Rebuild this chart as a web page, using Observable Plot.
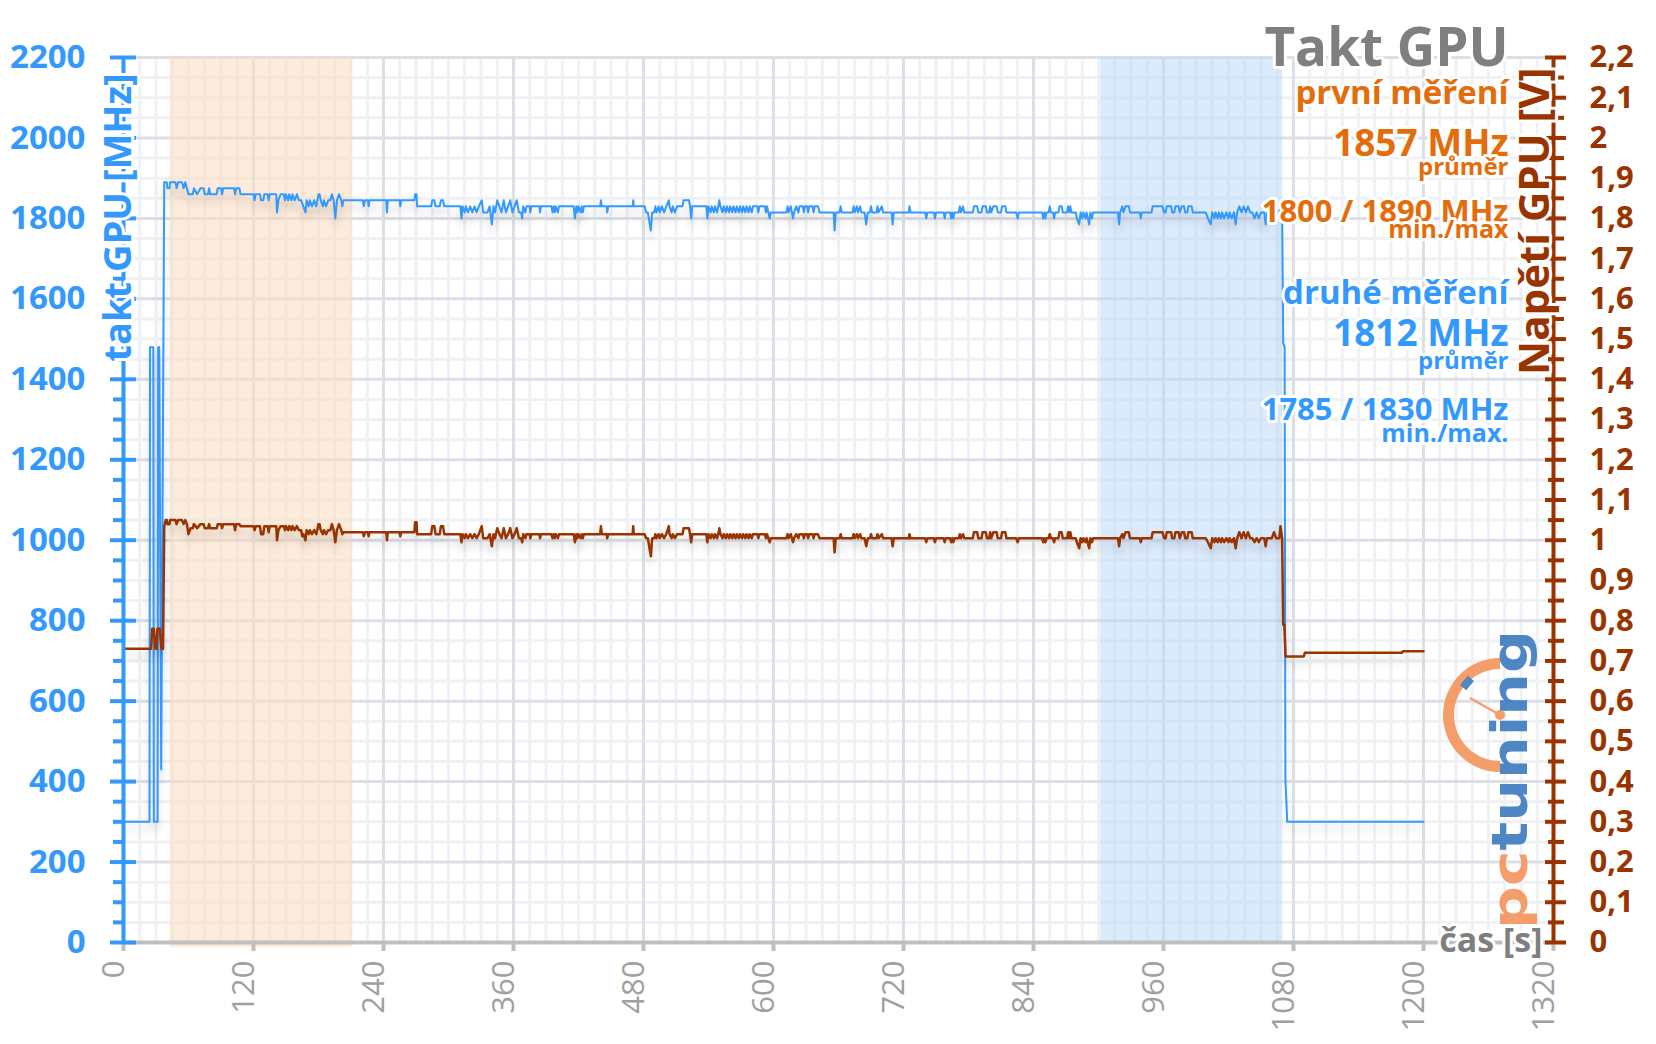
<!DOCTYPE html>
<html><head><meta charset="utf-8">
<script src="https://cdn.jsdelivr.net/npm/d3@7"></script>
<script src="https://cdn.jsdelivr.net/npm/@observablehq/plot@0.6"></script>
<style>
html,body{margin:0;padding:0;background:#fff;}
#chart svg text{paint-order:stroke;}
#chart g[aria-label="line"] path{filter:drop-shadow(0px 7px 4px rgba(0,0,0,0.17));}
</style></head>
<body><div id="chart"></div>
<script>
// ---- data ----
const timeTicks = [0,120,240,360,480,600,720,840,960,1080,1200,1320];
const clockTicks = [0,200,400,600,800,1000,1200,1400,1600,1800,2000,2200];
const voltTicks = [0,0.1,0.2,0.3,0.4,0.5,0.6,0.7,0.8,0.9,1,1.1,1.2,1.3,1.4,1.5,1.6,1.7,1.8,1.9,2,2.1,2.2];
const bandFirst = [{start:43,end:211}];
const bandSecond = [{start:902,end:1070}];
const clockPts = [
[0,300],[24,300],[24.5,1480],[27.5,1480],[28,300],[31.5,300],[32,1480],[33,1480],[34.8,430],[37.6,1890],
[40,1890],[40.5,1875],[42.5,1875],[43,1890],[48,1890],[49,1875],[50.5,1890],[54,1890],[55.5,1875],[57,1890],[58.5,1875],[60,1860],
[64,1860],[65,1875],[68,1860],[71,1875],[74,1875],[75,1860],[78,1860],[79,1875],[80,1860],[86,1860],[87,1875],[90,1875],[91,1860],[92,1875],[102,1875],[103,1860],[104,1875],[107,1875],[108,1860],
[120,1860],[121,1845],[122,1860],[126,1860],[127,1845],[129,1845],[130,1860],[133,1860],[134,1845],[135,1860],[141,1860],[141.7,1815],[143,1845],[145,1860],[148,1860],[149,1845],[150,1860],[152,1845],[153,1860],[155,1845],[156,1860],[158,1845],[160,1860],[162,1845],
[164,1845],[166,1830],[168,1815],[169,1845],[171,1830],[172,1845],[174,1830],[176,1845],[178,1830],[180,1860],[181,1860],[182,1845],[184,1830],[185,1845],[187,1830],[189,1845],[191,1845],[192.4,1860],[194,1845],[195.5,1800],[197,1845],[199,1860],[201,1845],[202,1830],[203,1845],
[221,1845],[221.8,1830],[223,1845],[225.5,1845],[226.3,1830],[227,1845],
[242.5,1845],[243.2,1815],[244,1845],[254.8,1845],[255.5,1830],[256.3,1845],[268.5,1845],[269.2,1860],[270.5,1860],[271,1830],
[284,1830],[285,1845],[287,1845],[288,1830],[292,1830],[293,1845],[295,1845],[296,1830],
[311,1830],[312,1800],[313,1830],[315,1815],[316,1830],[318,1815],[320,1830],[322,1815],[324,1830],[326,1815],[328,1830],[330.7,1845],[332,1815],[336,1815],[338,1830],[340,1785],[341.5,1830],[343,1815],[345,1845],[347,1830],[349,1815],[351,1845],[353,1815],[355,1830],[357,1845],[359,1815],[361,1830],[363,1845],[365,1815],
[367,1815],[368,1800],[369,1830],[371,1815],[372,1830],
[375,1830],[375.5,1815],[376.5,1830],[384,1830],[384.5,1815],[385.5,1830],[395,1830],[396,1815],[397,1830],[398,1815],[399,1830],[401,1815],[402,1830],
[415.5,1830],[416.7,1800],[418,1830],[419,1815],[420,1830],[422,1815],[423,1830],[424,1815],[425,1830],
[440,1830],[440.7,1845],[441.5,1830],[446,1830],[446.5,1815],[447.5,1830],
[470,1830],[470.5,1845],[471,1830],[481,1830],[482.5,1815],[484,1815],[486.8,1770],[488,1815],[490,1815],[491,1830],[492,1815],[494,1830],[495,1815],[497,1830],[499,1815],[501,1830],[503.4,1845],[504,1830],[506,1815],[507,1830],[509,1815],[511,1830],[514,1830],
[516,1830],[517,1845],[522,1845],[523,1830],[524,1800],[525,1830],[538,1830],[539,1800],[540,1830],
[542,1815],[543,1830],[545,1815],[546,1830],[548,1815],[549,1830],[550,1845],[551,1830],[553,1815],[554,1830],[556,1815],[557,1830],[559,1815],[560,1830],[562,1815],[563,1830],[565,1815],[566,1830],[568,1815],[569,1830],[571,1815],[572,1830],[574,1815],[575,1830],[577,1815],[578,1830],[580,1815],[581,1830],
[585,1830],[586,1815],[587,1830],[592,1830],[593,1815],[594,1830],[596.5,1800],[597.5,1815],
[612,1815],[613,1830],[614,1815],[616,1830],[617,1815],[618,1800],[619,1815],[621,1830],
[623,1815],[624,1830],[627,1830],[628,1815],[629,1830],[631,1830],[632,1815],[633,1830],[636,1830],[637,1815],[638,1830],[641,1830],[642.5,1815],
[655.5,1815],[656.4,1770],[657.5,1815],[661,1815],[662,1830],[663,1815],[673,1815],[674,1830],[675,1815],[677,1830],[678,1815],[680,1830],[681,1815],[684,1815],[685.6,1785],[687,1815],[689,1815],[690,1830],[691,1815],
[695,1815],[696,1830],[697,1815],[700,1830],[701,1815],
[709,1815],[710,1785],[711,1815],[725,1815],[725.5,1830],[726.5,1815],
[740,1815],[741,1800],[742,1815],[748,1815],[749,1800],[750,1815],[757,1815],[758,1800],[759,1815],[763,1815],[764,1800],[765,1815],[766,1800],[767,1815],[771,1815],[772,1830],[773,1815],[775,1830],[776,1815],[784,1815],
[785,1830],[788,1830],[789,1815],[792,1815],[793,1830],[796,1830],[797,1815],[799,1815],[800,1830],[801,1815],[803,1830],[806,1830],[807,1815],[810,1815],[811,1830],[814,1830],[815,1815],
[824,1815],[825.4,1800],[826.5,1815],[848,1815],[849,1800],[850,1815],[851,1800],[852,1815],[854,1815],[855,1830],[856,1815],[858,1815],[859,1800],[860,1815],[863,1815],[864,1830],[866,1830],[867,1815],[871,1815],[872,1830],[873,1815],[874,1830],[875,1815],
[879,1815],[880,1800],[882.2,1785],[883.5,1815],[885,1800],[886,1815],[888,1800],[889,1815],[891.4,1785],[892.5,1815],[894,1800],[895,1815],
[918,1815],[919,1785],[920,1815],[922,1830],[923,1815],[925,1830],[928,1830],[929,1815],[938,1815],[939,1800],[940,1815],[949,1815],[950,1830],[959,1830],[960.6,1815],[962,1815],[963,1830],[967,1830],[968,1815],[970,1815],[971,1830],[974,1830],[975,1815],[977,1830],[979,1830],[980,1815],[982,1815],[983,1830],[986,1830],[987,1815],
[999,1815],[1001,1800],[1003.6,1785],[1005,1815],[1007,1800],[1008,1815],[1010,1800],[1011,1815],[1013,1800],[1014,1815],[1016,1800],[1018,1815],[1020,1800],[1021,1815],[1023,1800],[1025,1815],[1026.6,1785],[1028,1815],[1030,1830],[1032,1815],[1034,1830],[1036,1815],[1038,1830],[1040,1815],[1042,1815],[1044,1800],[1046,1815],[1048,1800],[1050,1815],[1053,1815],[1054.3,1785],[1055.5,1815],[1060,1815],[1062,1830],[1064,1815],[1067,1815],[1068,1830],[1069.5,1815],
[1070.5,1490],[1071.8,1480],[1072.5,408],[1074.2,300],[1200,300]
];
const voltPts = [
[0,0.73],[25.5,0.73],[26.5,0.78],[28,0.78],[29.5,0.73],[30.5,0.73],[31.3,0.78],[33.5,0.78],[35,0.73],[36.5,0.73],[37.6,1.035],[39,1.05],
[40,1.05],[40.5,1.04],[42.5,1.04],[43,1.05],[48,1.05],[49,1.04],[50.5,1.05],[54,1.05],[55.5,1.04],[57,1.05],[58.5,1.04],[60,1.015],[62,1.03],
[64,1.03],[65,1.04],[68,1.03],[71,1.04],[74,1.04],[75,1.03],[78,1.03],[79,1.04],[80,1.03],[86,1.03],[87,1.04],[90,1.04],[91,1.03],[92,1.04],[102,1.04],[103,1.025],[104,1.04],[107,1.04],[108,1.035],
[120,1.035],[121,1.025],[122,1.035],[126,1.035],[127,1.015],[129,1.015],[130,1.035],[133,1.035],[134,1.02],[135,1.035],[141,1.035],[141.7,1.0],[143,1.025],[145,1.035],[148,1.035],[149,1.025],[150,1.035],[152,1.025],[153,1.035],[155,1.025],[156,1.035],[158,1.025],[160,1.035],[162,1.025],
[164,1.025],[165,1.01],[166,1.015],[168,1.0],[169,1.025],[171,1.015],[172,1.025],[174,1.015],[176,1.025],[178,1.015],[180,1.04],[181,1.04],[182,1.025],[184,1.015],[185,1.025],[187,1.015],[189,1.025],[191,1.025],[192.4,1.04],[194,1.025],[195.5,0.995],[197,1.025],[199,1.04],[201,1.025],[202,1.015],[203,1.02],
[221,1.02],[221.8,1.01],[223,1.02],[225.5,1.02],[226.3,1.01],[227,1.02],
[242.5,1.02],[243.2,1.0],[244,1.02],[254.8,1.02],[255.5,1.01],[256.3,1.02],[268.5,1.02],[269.2,1.045],[270.5,1.045],[271,1.015],
[284,1.015],[285,1.035],[287,1.035],[288,1.015],[292,1.015],[293,1.035],[295,1.035],[296,1.015],
[311,1.015],[312,0.995],[313,1.015],[315,1.005],[316,1.015],[318,1.005],[320,1.015],[322,1.005],[324,1.015],[326,1.005],[328,1.015],[330.7,1.035],[332,1.005],[336,1.005],[338,1.015],[340,0.985],[341.5,1.015],[343,1.005],[345,1.03],[347,1.015],[349,1.005],[351,1.03],[353,1.005],[355,1.015],[357,1.03],[359,1.005],[361,1.015],[363,1.03],[365,1.005],
[367,1.005],[368,0.995],[369,1.015],[371,1.005],[372,1.015],
[375,1.015],[375.5,1.005],[376.5,1.015],[384,1.015],[384.5,1.005],[385.5,1.015],[395,1.015],[396,1.005],[397,1.015],[398,1.005],[399,1.015],[401,1.005],[402,1.015],
[415.5,1.015],[416.7,0.995],[418,1.015],[419,1.005],[420,1.015],[422,1.005],[423,1.015],[424,1.005],[425,1.015],
[440,1.015],[440.7,1.035],[441.5,1.015],[446,1.015],[446.5,1.005],[447.5,1.015],
[470,1.015],[470.5,1.035],[471,1.015],[481,1.015],[482.5,1.005],[484,1.005],[486.8,0.96],[488,1.005],[490,1.005],[491,1.015],[492,1.005],[494,1.015],[495,1.005],[497,1.015],[499,1.005],[501,1.015],[503.4,1.035],[504,1.015],[506,1.005],[507,1.015],[509,1.005],[511,1.015],[514,1.015],
[516,1.015],[517,1.03],[522,1.03],[523,1.015],[524,0.995],[525,1.015],[538,1.015],[539,0.995],[540,1.015],
[542,1.005],[543,1.015],[545,1.005],[546,1.015],[548,1.005],[549,1.015],[550,1.03],[551,1.015],[553,1.005],[554,1.015],[556,1.005],[557,1.015],[559,1.005],[560,1.015],[562,1.005],[563,1.015],[565,1.005],[566,1.015],[568,1.005],[569,1.015],[571,1.005],[572,1.015],[574,1.005],[575,1.015],[577,1.005],[578,1.015],[580,1.005],[581,1.015],
[585,1.015],[586,1.005],[587,1.015],[592,1.015],[593,1.005],[594,1.015],[596.5,0.995],[597.5,1.005],
[612,1.005],[613,1.015],[614,1.005],[616,1.015],[617,1.005],[618,0.995],[619,1.005],[621,1.015],
[623,1.005],[624,1.015],[627,1.015],[628,1.005],[629,1.015],[631,1.015],[632,1.005],[633,1.015],[636,1.015],[637,1.005],[638,1.015],[641,1.015],[642.5,1.005],
[655.5,1.005],[656.4,0.97],[657.5,1.005],[661,1.005],[662,1.015],[663,1.005],[673,1.005],[674,1.015],[675,1.005],[677,1.015],[678,1.005],[680,1.015],[681,1.005],[684,1.005],[685.6,0.985],[687,1.005],[689,1.005],[690,1.015],[691,1.005],
[695,1.005],[696,1.015],[697,1.005],[700,1.015],[701,1.005],
[709,1.005],[710,0.985],[711,1.005],[725,1.005],[725.5,1.015],[726.5,1.005],
[740,1.005],[741,0.995],[742,1.005],[748,1.005],[749,0.995],[750,1.005],[757,1.005],[758,0.995],[759,1.005],[763,1.005],[764,0.995],[765,1.005],[766,0.995],[767,1.005],[771,1.005],[772,1.015],[773,1.005],[775,1.015],[776,1.005],[784,1.005],
[785,1.02],[788,1.02],[789,1.005],[792,1.005],[793,1.02],[796,1.02],[797,1.005],[799,1.005],[800,1.02],[801,1.005],[803,1.02],[806,1.02],[807,1.005],[810,1.005],[811,1.02],[814,1.02],[815,1.005],
[824,1.005],[825.4,0.995],[826.5,1.005],[848,1.005],[849,0.995],[850,1.005],[851,0.995],[852,1.005],[854,1.005],[855,1.015],[856,1.005],[858,1.005],[859,0.995],[860,1.005],[863,1.005],[864,1.02],[866,1.02],[867,1.005],[871,1.005],[872,1.02],[873,1.005],[874,1.02],[875,1.005],
[879,1.005],[880,0.995],[882.2,0.98],[883.5,1.005],[885,0.995],[886,1.005],[888,0.995],[889,1.005],[891.4,0.98],[892.5,1.005],[894,0.995],[895,1.005],
[918,1.005],[919,0.985],[920,1.005],[922,1.015],[923,1.005],[925,1.02],[928,1.02],[929,1.005],[938,1.005],[939,0.995],[940,1.005],[949,1.005],[950,1.02],[959,1.02],[960.6,1.005],[962,1.005],[963,1.02],[967,1.02],[968,1.005],[970,1.005],[971,1.02],[974,1.02],[975,1.005],[977,1.02],[979,1.02],[980,1.005],[982,1.005],[983,1.02],[986,1.02],[987,1.005],
[999,1.005],[1001,0.995],[1003.6,0.98],[1005,1.005],[1007,0.995],[1008,1.005],[1010,0.995],[1011,1.005],[1013,0.995],[1014,1.005],[1016,0.995],[1018,1.005],[1020,0.995],[1021,1.005],[1023,0.995],[1025,1.005],[1026.6,0.98],[1028,1.005],[1030,1.02],[1032,1.005],[1034,1.02],[1036,1.005],[1038,1.02],[1040,1.005],[1042,1.005],[1044,0.995],[1046,1.005],[1048,0.995],[1050,1.005],[1053,1.005],[1054.3,0.985],[1055.5,1.005],[1060,1.005],[1062,1.02],[1064,1.005],[1067,1.005],[1068,1.035],[1069.5,1.005],
[1070.5,0.79],[1071.5,0.79],[1072.7,0.711],[1089.5,0.711],[1090.5,0.72],[1180,0.72],[1181,0.724],[1200,0.724]
];

// ---- layout / style ----
const W = 1656, H = 1044, mL = 123, mR = 103, mT = 57, mB = 102;
const fw = W - mL - mR, fh = H - mT - mB;
const X_MAX = timeTicks[timeTicks.length-1], Y_MAX = clockTicks[clockTicks.length-1];
const BLUE = "#3399ff", BROWN = "#993300", ORANGE = "#e46c0a", GRAY = "#7f7f7f";
const xMinor = d3.range(0, X_MAX + 1, 15).filter(v => v % 120 !== 0);
const yMinor = d3.range(0, Y_MAX + 1, 50).filter(v => v % 200 !== 0);
const vMinor = voltTicks.slice(0, -1).map(v => v + 0.05);
const font = "'Open Sans', 'DejaVu Sans', sans-serif";
const halo = {stroke: "white", strokeWidth: 6, strokeLinejoin: "round"};

function legend(txt, color, size, dy) {
  return Plot.text([txt], {frameAnchor: "top-right", textAnchor: "end", lineAnchor: "bottom",
    dx: -45, dy, fill: color, fontSize: size, fontWeight: "bold", ...halo});
}

const chart = Plot.plot({
  width: W, height: H,
  marginLeft: mL, marginRight: mR, marginTop: mT, marginBottom: mB,
  style: {background: "white", fontFamily: font},
  x: {domain: [0, X_MAX], axis: null},
  y: {domain: [0, Y_MAX], axis: null},
  marks: [
    Plot.ruleX(xMinor, {stroke: "#eff1f5", strokeWidth: 3}),
    Plot.ruleY(yMinor, {stroke: "#eff1f5", strokeWidth: 3}),
    Plot.ruleX(timeTicks.filter(v => v > 0 && v < X_MAX), {stroke: "#dcdfe6", strokeWidth: 3}),
    Plot.ruleY(clockTicks.filter(v => v > 0), {stroke: "#dcdfe6", strokeWidth: 3}),
    Plot.rect(bandFirst, {x1: "start", x2: "end", y1: () => 0, y2: () => Y_MAX, fill: "#fbdcbf", fillOpacity: 0.55, insetBottom: -5}),
    Plot.rect(bandSecond, {x1: "start", x2: "end", y1: () => 0, y2: () => Y_MAX, fill: "#b9d8f9", fillOpacity: 0.5}),
    // x axis
    Plot.ruleY([0], {stroke: "#bfbfbf", strokeWidth: 4}),
    Plot.tickX(timeTicks, {x: d => d, stroke: "#bfbfbf", strokeWidth: 4, insetTop: fh, insetBottom: -9}),
    Plot.text(timeTicks, {x: d => d, frameAnchor: "bottom", text: d => String(d), rotate: -90, textAnchor: "end",
      dy: 18, fill: "#a0a0a0", fontSize: 31}),
    // data
    Plot.line(clockPts, {x: d => d[0], y: d => d[1], stroke: BLUE, strokeWidth: 2}),
    Plot.line(voltPts, {x: d => d[0], y: d => d[1] * 1000, stroke: BROWN, strokeWidth: 2.5}),
    // left axis
    Plot.ruleX([0], {stroke: BLUE, strokeWidth: 4}),
    Plot.tickY(clockTicks, {y: d => d, stroke: BLUE, strokeWidth: 4, insetLeft: -13, insetRight: fw - 13}),
    Plot.tickY(yMinor, {y: d => d, stroke: BLUE, strokeWidth: 4, insetLeft: -10, insetRight: fw}),
    Plot.text(clockTicks, {y: d => d, frameAnchor: "left", text: d => String(d), textAnchor: "end", dx: -38,
      fill: BLUE, fontSize: 33, fontWeight: "bold"}),
    // right axis
    Plot.ruleX([X_MAX], {stroke: BROWN, strokeWidth: 4}),
    Plot.tickY(voltTicks, {y: d => d * 1000, stroke: BROWN, strokeWidth: 4, insetLeft: fw - 8, insetRight: -13}),
    Plot.tickY(vMinor, {y: d => d * 1000, stroke: BROWN, strokeWidth: 4, insetLeft: fw - 5, insetRight: -11}),
    Plot.text(voltTicks, {y: d => d * 1000, frameAnchor: "right", text: d => String(d).replace(".", ","),
      textAnchor: "start", dx: 36, fill: BROWN, fontSize: 31, fontWeight: "bold"}),
    // axis titles
    Plot.text(["takt GPU [MHz]"], {frameAnchor: "top-left", rotate: -90, textAnchor: "end", lineAnchor: "bottom",
      dx: 7, dy: 16, fill: BLUE, fontSize: 38, fontWeight: "bold", ...halo}),
    Plot.text(["Napětí GPU [V]"], {frameAnchor: "top-right", rotate: -90, textAnchor: "end", lineAnchor: "bottom",
      dx: -5, dy: 10, fill: BROWN, fontSize: 42, fontWeight: "bold", ...halo}),
    Plot.text(["čas [s]"], {frameAnchor: "bottom-right", textAnchor: "end", lineAnchor: "bottom",
      dx: -11, dy: 9, fill: GRAY, fontSize: 34, fontWeight: "bold", ...halo}),
    // legend texts
    legend("Takt GPU", GRAY, 53, 8),
    legend("první měření", ORANGE, 33, 46),
    legend("1857 MHz", ORANGE, 37, 98),
    legend("průměr", ORANGE, 24, 117),
    legend("1800 / 1890 MHz", ORANGE, 31, 164),
    legend("min./max", ORANGE, 25, 180),
    legend("druhé měření", BLUE, 33, 246),
    legend("1812 MHz", BLUE, 37, 288),
    legend("průměr", BLUE, 24, 311),
    legend("1785 / 1830 MHz", BLUE, 31, 362),
    legend("min./max.", BLUE, 25, 384)
  ]
});
document.getElementById("chart").appendChild(chart);

// ---- pctuning logo (decoration) ----
const svg = d3.select(chart);
const lx = mL + fw - 53, ly = mT + fh - 227; // gauge centre
const logo = svg.append("g").attr("opacity", 0.92);
logo.append("path")
  .attr("transform", `translate(${lx},${ly})`)
  .attr("d", d3.arc()({innerRadius: 46, outerRadius: 57, startAngle: Math.PI, endAngle: 2 * Math.PI}))
  .attr("fill", "#f4965f");
logo.append("rect").attr("x", -6).attr("y", -4).attr("width", 12).attr("height", 8)
  .attr("transform", `translate(${lx - 33},${ly - 32}) rotate(-50)`).attr("fill", "#3f7dc0");
logo.append("line").attr("x1", lx).attr("y1", ly).attr("x2", lx - 30).attr("y2", ly - 17)
  .attr("stroke", "#f4965f").attr("stroke-width", 2.5);
logo.append("circle").attr("cx", lx).attr("cy", ly).attr("r", 5).attr("fill", "#f4965f");
const lt = logo.append("text")
  .attr("transform", `translate(${mL + fw - 26},${mT + fh - 13}) rotate(-90)`)
  .attr("text-anchor", "start")
  .attr("font-family", "'DejaVu Sans', sans-serif").attr("font-weight", "bold").attr("font-size", 50)
  .attr("textLength", 299).attr("lengthAdjust", "spacingAndGlyphs");
lt.append("tspan").attr("fill", "#f4965f").text("pc");
lt.append("tspan").attr("fill", "#3f7dc0").text("tuning");
</script>
</body></html>
